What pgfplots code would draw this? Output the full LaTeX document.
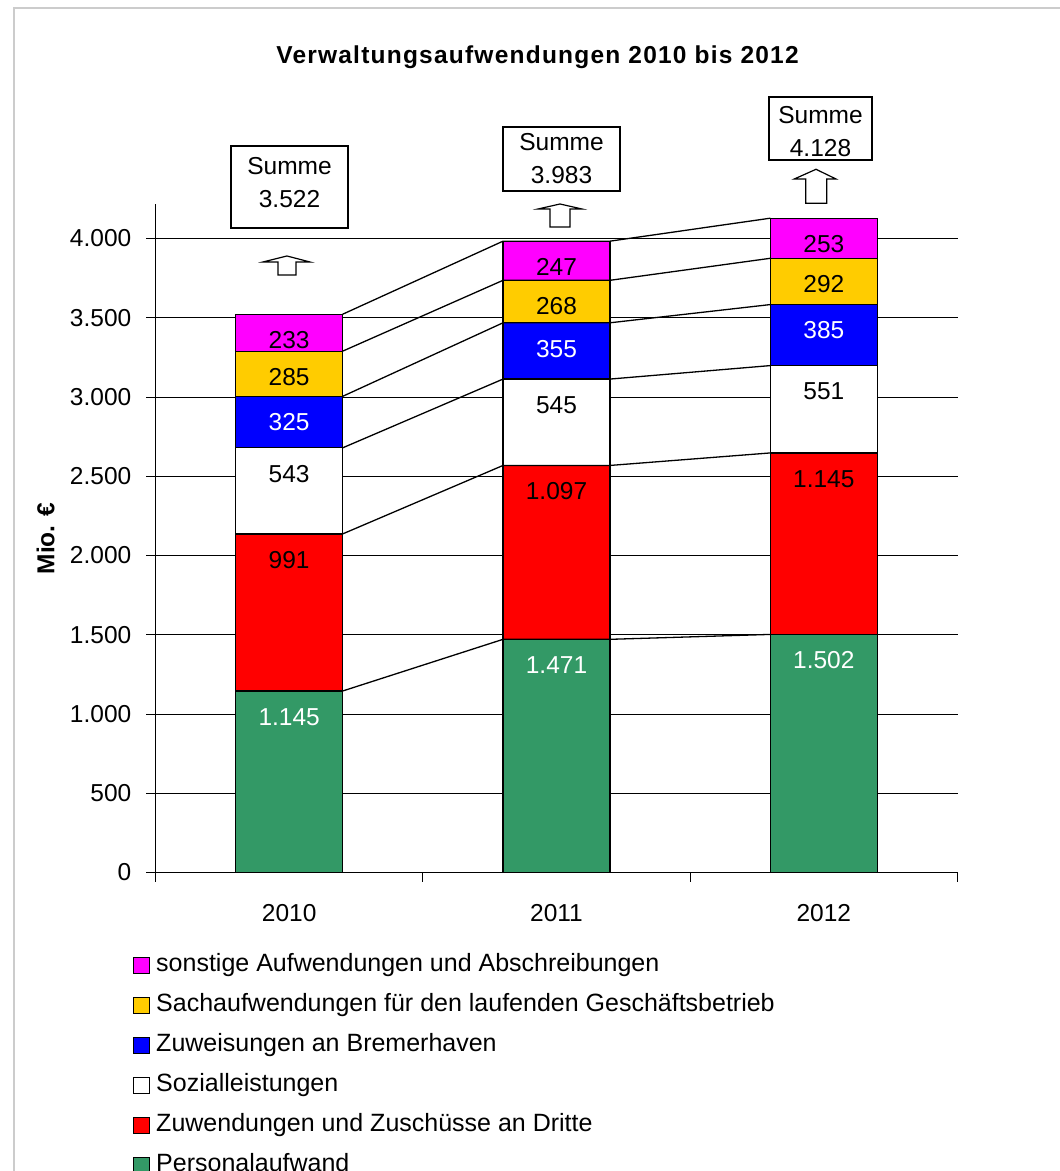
\documentclass[border=0pt]{standalone}
\usepackage{fontspec}
\setmainfont{Liberation Sans}
\newfontfamily\titlefont{Liberation Sans}[LetterSpace=5]
\usepackage{pgfplots}
\pgfplotsset{compat=1.18}
\usepackage{pgfplotstable}
\definecolor{cpa}{RGB}{51,153,102}
\definecolor{czu}{RGB}{255,0,0}
\definecolor{cso}{RGB}{255,255,255}
\definecolor{czb}{RGB}{0,0,255}
\definecolor{csa}{RGB}{255,204,0}
\definecolor{csn}{RGB}{255,0,255}
\newcommand\fs{\fontsize{24.5}{29}\selectfont}

\pgfplotstableread{
x pa zu so zb sa sn
0 1145 991 543 325 285 233
1 1471 1097 545 355 268 247
2 1502 1145 551 385 292 253
}\data

\pgfplotsset{
  base/.style={scale only axis, width=802pt, height=668.1pt,
    at={(155.5pt,298.5pt)}, anchor=south west,
    xmin=-0.5, xmax=2.5, ymin=0, ymax=4215,
    /pgf/number format/1000 sep={.},
    /pgf/number format/assume math mode=true},
  legsq/.style={legend image code/.code={\draw[##1, draw=black, line width=1pt] (0pt,-8pt) rectangle (16pt,8pt);}},
  lab/.style={draw=none, nodes near coords, point meta=explicit,
    nodes near coords style={font=\fs, anchor=center, text=#1}},
}

\begin{document}
\begin{tikzpicture}[x=1pt,y=1pt]
\path[use as bounding box] (0,0) rectangle (1060,1171);
\draw[gray!40, line width=1.5pt] (14,-20) -- (14,1163) -- (1080,1163);

\begin{axis}[base,
  ybar stacked, bar width=0.4,
  axis x line=bottom, axis y line=left,
  axis line style={-, black, line width=1pt},
  ytick={0,500,...,4000},
  ymajorgrids, grid style={black, line width=0.8pt},
  xtick={0,1,2}, xticklabels={2010,2011,2012},
  major x tick style={draw=none},
  minor xtick={-0.5,0.5,1.5,2.5},
  tick align=outside, major tick length=9pt, minor tick length=9pt,
  tick style={black, line width=0.8pt},
  yticklabel style={font=\fs, anchor=east, inner sep=0pt, xshift=-15pt},
  xticklabel style={font=\fs, anchor=base, inner sep=0pt, yshift=-39.5pt},
  ylabel={Mio. €},
  ylabel style={font=\fs\bfseries, at={(axis description cs:-0.137,0.5)}, anchor=center},
  legend style={at={(axis description cs:-0.028,-0.1224)}, anchor=north west,
    draw=none, fill=none, font={\fontsize{25}{29}\selectfont}, row sep=18pt, column sep=6pt, inner sep=0pt,
    nodes={inner sep=0pt, text height=17pt, text depth=5pt}},
  legend cell align=left, reverse legend,
]
\addplot[fill=cpa, draw=black, line width=1.2pt, legsq] table[x=x,y=pa]{\data};
\addlegendentry{Personalaufwand}
\addplot[fill=czu, draw=black, line width=1.2pt, legsq] table[x=x,y=zu]{\data};
\addlegendentry{Zuwendungen und Zuschüsse an Dritte}
\addplot[fill=cso, draw=black, line width=1.2pt, legsq] table[x=x,y=so]{\data};
\addlegendentry{Sozialleistungen}
\addplot[fill=czb, draw=black, line width=1.2pt, legsq] table[x=x,y=zb]{\data};
\addlegendentry{Zuweisungen an Bremerhaven}
\addplot[fill=csa, draw=black, line width=1.2pt, legsq] table[x=x,y=sa]{\data};
\addlegendentry{Sachaufwendungen für den laufenden Geschäftsbetrieb}
\addplot[fill=csn, draw=black, line width=1.2pt, legsq] table[x=x,y=sn]{\data};
\addlegendentry{sonstige Aufwendungen und Abschreibungen}
\end{axis}

\begin{axis}[base, hide axis, clip=false]
\addplot[black, line width=1.3pt] coordinates {(0.2,1145) (0.8,1471) (1.2,1471) (1.8,1502)};
\addplot[black, line width=1.3pt] coordinates {(0.2,2136) (0.8,2568) (1.2,2568) (1.8,2647)};
\addplot[black, line width=1.3pt] coordinates {(0.2,2679) (0.8,3113) (1.2,3113) (1.8,3198)};
\addplot[black, line width=1.3pt] coordinates {(0.2,3004) (0.8,3468) (1.2,3468) (1.8,3583)};
\addplot[black, line width=1.3pt] coordinates {(0.2,3289) (0.8,3736) (1.2,3736) (1.8,3875)};
\addplot[black, line width=1.3pt] coordinates {(0.2,3522) (0.8,3983) (1.2,3983) (1.8,4128)};
\addplot[lab=white] table[x=x, y expr=\thisrow{pa}-164, meta=pa]{\data};
\addplot[lab=black] table[x=x, y expr=\thisrow{pa}+\thisrow{zu}-164, meta=zu]{\data};
\addplot[lab=black] table[x=x, y expr=\thisrow{pa}+\thisrow{zu}+\thisrow{so}-164, meta=so]{\data};
\addplot[lab=white] table[x=x, y expr=\thisrow{pa}+\thisrow{zu}+\thisrow{so}+\thisrow{zb}-164, meta=zb]{\data};
\addplot[lab=black] table[x=x, y expr=\thisrow{pa}+\thisrow{zu}+\thisrow{so}+\thisrow{zb}+\thisrow{sa}-164, meta=sa]{\data};
\addplot[lab=black] table[x=x, y expr=\thisrow{pa}+\thisrow{zu}+\thisrow{so}+\thisrow{zb}+\thisrow{sa}+\thisrow{sn}-164, meta=sn]{\data};
\end{axis}

% title
\node[font={\fontsize{24.5}{29}\titlefont\bfseries}, anchor=base] at (537.5,1107.7) {Verwaltungsaufwendungen 2010 bis 2012};

% sum boxes
\draw[black, line width=1.3pt, fill=white] (231,943) rectangle (348,1025);
\node[font={\fontsize{24.5}{33}\selectfont}, align=center, inner sep=0pt] at (289.5,988.5) {Summe\\3.522};
\draw[black, line width=1.3pt, fill=white] (503,980) rectangle (620,1044);
\node[font={\fontsize{24.5}{33}\selectfont}, align=center, inner sep=0pt] at (561.5,1012) {Summe\\3.983};
\draw[black, line width=1.3pt, fill=white] (769,1011) rectangle (872,1074);
\node[font={\fontsize{24.5}{33}\selectfont}, align=center, inner sep=0pt] at (820.5,1039) {Summe\\4.128};

% arrows
\draw[black, line width=1.2pt, fill=white, line join=miter] (278,896) -- (278,909) -- (263,909) -- (287,915) -- (310,909) -- (296,909) -- (296,896) -- cycle;
\draw[black, line width=1.2pt, fill=white, line join=miter] (550,944) -- (550,962) -- (538,962) -- (560,967) -- (582,962) -- (570,962) -- (570,944) -- cycle;
\draw[black, line width=1.2pt, fill=white, line join=miter] (805.7,967.7) -- (805.7,992) -- (794.3,992) -- (816,1001.7) -- (836,992) -- (826.7,992) -- (826.7,967.7) -- cycle;
\end{tikzpicture}
\end{document}
